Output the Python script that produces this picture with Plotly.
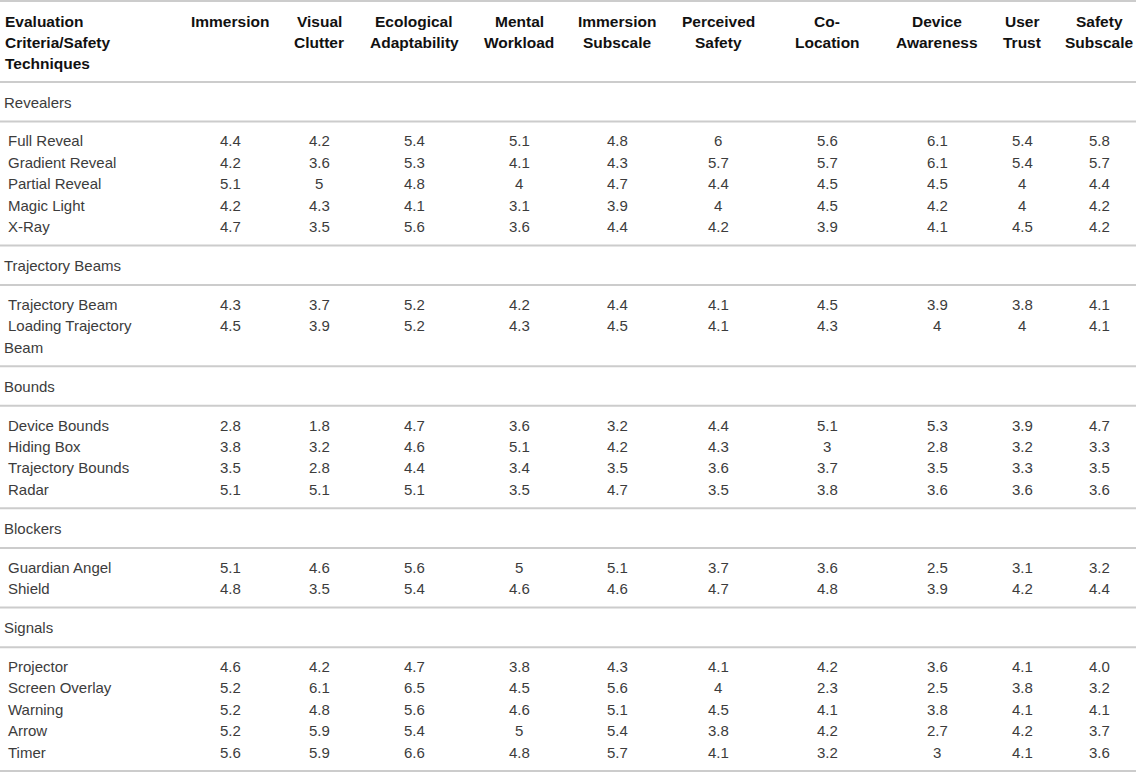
import plotly.graph_objects as go

# column headers (first one is the row-label column)
colunas = ["Evaluation<br>Criteria/Safety<br>Techniques", "Immersion", "Visual<br>Clutter",
           "Ecological<br>Adaptability", "Mental<br>Workload", "Immersion<br>Subscale",
           "Perceived<br>Safety", "Co-<br>Location", "Device<br>Awareness", "User<br>Trust",
           "Safety<br>Subscale"]

# groups of techniques
grupos = ["Revealers", "Trajectory Beams", "Bounds", "Blockers", "Signals"]

tecnicas = [
    ["Full Reveal", "Gradient Reveal", "Partial Reveal", "Magic Light", "X-Ray"],
    ["Trajectory Beam", "Loading Trajectory<br>Beam"],
    ["Device Bounds", "Hiding Box", "Trajectory Bounds", "Radar"],
    ["Guardian Angel", "Shield"],
    ["Projector", "Screen Overlay", "Warning", "Arrow", "Timer"],
]

revealers = [
    ["4.4", "4.2", "5.4", "5.1", "4.8", "6", "5.6", "6.1", "5.4", "5.8"],
    ["4.2", "3.6", "5.3", "4.1", "4.3", "5.7", "5.7", "6.1", "5.4", "5.7"],
    ["5.1", "5", "4.8", "4", "4.7", "4.4", "4.5", "4.5", "4", "4.4"],
    ["4.2", "4.3", "4.1", "3.1", "3.9", "4", "4.5", "4.2", "4", "4.2"],
    ["4.7", "3.5", "5.6", "3.6", "4.4", "4.2", "3.9", "4.1", "4.5", "4.2"],
]
trajectory_beams = [
    ["4.3", "3.7", "5.2", "4.2", "4.4", "4.1", "4.5", "3.9", "3.8", "4.1"],
    ["4.5", "3.9", "5.2", "4.3", "4.5", "4.1", "4.3", "4", "4", "4.1"],
]
bounds = [
    ["2.8", "1.8", "4.7", "3.6", "3.2", "4.4", "5.1", "5.3", "3.9", "4.7"],
    ["3.8", "3.2", "4.6", "5.1", "4.2", "4.3", "3", "2.8", "3.2", "3.3"],
    ["3.5", "2.8", "4.4", "3.4", "3.5", "3.6", "3.7", "3.5", "3.3", "3.5"],
    ["5.1", "5.1", "5.1", "3.5", "4.7", "3.5", "3.8", "3.6", "3.6", "3.6"],
]
blockers = [
    ["5.1", "4.6", "5.6", "5", "5.1", "3.7", "3.6", "2.5", "3.1", "3.2"],
    ["4.8", "3.5", "5.4", "4.6", "4.6", "4.7", "4.8", "3.9", "4.2", "4.4"],
]
signals = [
    ["4.6", "4.2", "4.7", "3.8", "4.3", "4.1", "4.2", "3.6", "4.1", "4.0"],
    ["5.2", "6.1", "6.5", "4.5", "5.6", "4", "2.3", "2.5", "3.8", "3.2"],
    ["5.2", "4.8", "5.6", "4.6", "5.1", "4.5", "4.1", "3.8", "4.1", "4.1"],
    ["5.2", "5.9", "5.4", "5", "5.4", "3.8", "4.2", "2.7", "4.2", "3.7"],
    ["5.6", "5.9", "6.6", "4.8", "5.7", "4.1", "3.2", "3", "4.1", "3.6"],
]
valores = [revealers, trajectory_beams, bounds, blockers, signals]

# layout (pixels)
W, H = 1145, 772
centros = [230, 319, 414, 519, 617, 718, 827, 937, 1022, 1099]
linha_cor = "#cccccc"
fonte = "Liberation Sans, Arial, Helvetica, sans-serif"
cor_texto = "#3c3c3c"
cor_cab = "#111111"
passo = 21.4

fig = go.Figure()
anot = []
linhas_y = [1]

# header
for i, c in enumerate(colunas):
    for k, parte in enumerate(c.split("<br>")):
        if i == 0:
            anot.append(dict(x=3, y=21 + k * 21, text=parte, xanchor="left"))
        else:
            anot.append(dict(x=centros[i - 1], y=21 + k * 21, text=parte, xanchor="center"))
for a in anot:
    a["font"] = dict(family=fonte, size=15.5, color=cor_cab)
    a["text"] = "<b>" + a["text"] + "</b>"

y = 82
linhas_y.append(y)
for g, nome in enumerate(grupos):
    anot.append(dict(x=2, y=y + 20, text=nome, xanchor="left",
                     font=dict(family=fonte, size=15, color=cor_texto)))
    y += 39.6
    linhas_y.append(y)
    yr = y + 19.3
    for t, tec in enumerate(tecnicas[g]):
        partes = tec.split("<br>")
        for k, parte in enumerate(partes):
            anot.append(dict(x=6 if k == 0 else 2, y=yr + k * passo, text=parte, xanchor="left",
                             font=dict(family=fonte, size=15, color=cor_texto)))
        for j, v in enumerate(valores[g][t]):
            anot.append(dict(x=centros[j], y=yr, text=v, xanchor="center",
                             font=dict(family=fonte, size=15, color=cor_texto)))
        yr += passo * len(partes)
    y = yr - passo + 19.0
    linhas_y.append(y)

for a in anot:
    a.update(xref="x", yref="y", yanchor="middle", showarrow=False)

for ly in linhas_y:
    fig.add_shape(type="line", x0=0, x1=1136, y0=ly, y1=ly, xref="x", yref="y",
                  line=dict(color=linha_cor, width=2))

fig.update_layout(
    width=W, height=H,
    margin=dict(l=0, r=0, t=0, b=0),
    paper_bgcolor="white", plot_bgcolor="white",
    annotations=anot,
    xaxis=dict(range=[0, W], visible=False, fixedrange=True),
    yaxis=dict(range=[H, 0], visible=False, fixedrange=True),
    showlegend=False,
)

# tira a margem padrão do body para a tabela começar no canto
fig.write_html("out.html", config={"displayModeBar": False},
               post_script="document.body.style.margin='0px';")
